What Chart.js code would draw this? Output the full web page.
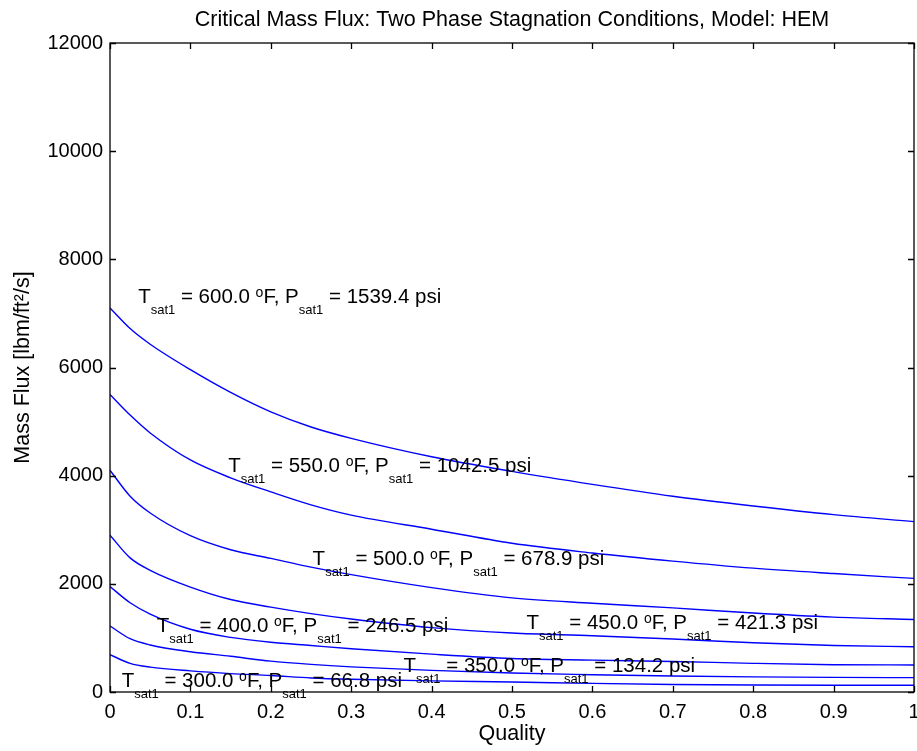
<!DOCTYPE html>
<html>
<head>
<meta charset="utf-8">
<script src="https://cdn.jsdelivr.net/npm/chart.js@4.4.0/dist/chart.umd.min.js"></script>
<style>
html, body { margin: 0; padding: 0; background: #fff; }
#box { width: 917px; height: 751px; }
</style>
</head>
<body>
<div id="box"><canvas id="myChart"></canvas></div>
<script>
// quality grid and critical mass flux per saturation temperature [lbm/ft2/s]
const quality = [0, 0.025, 0.05, 0.1, 0.15, 0.2, 0.25, 0.3, 0.4, 0.5, 0.6, 0.7, 0.8, 0.9, 1.0];
const g600 = [7100, 6720, 6430, 5960, 5540, 5180, 4900, 4690, 4350, 4080, 3840, 3620, 3440, 3280, 3150];
const g550 = [5500, 5120, 4790, 4290, 3960, 3700, 3460, 3270, 3010, 2750, 2570, 2420, 2290, 2190, 2100];
const g500 = [4100, 3620, 3310, 2890, 2630, 2470, 2310, 2170, 1930, 1740, 1640, 1555, 1460, 1385, 1340];
const g450 = [2900, 2480, 2250, 1940, 1710, 1570, 1450, 1350, 1190, 1090, 1040, 980, 910, 860, 838];
const g400 = [1950, 1650, 1440, 1160, 1010, 920, 860, 800, 700, 620, 590, 565, 530, 505, 500];
const g350 = [1220, 985, 870, 745, 660, 570, 510, 465, 400, 350, 320, 295, 280, 270, 265];
const g300 = [690, 530, 460, 390, 340, 305, 260, 235, 205, 185, 160, 140, 130, 125, 124];

// curve annotations: temperature, pressure, and where each text sits (quality, flux)
const tSat = ['600.0', '550.0', '500.0', '450.0', '400.0', '350.0', '300.0'];
const pSat = ['1539.4', '1042.5', '678.9', '421.3', '246.5', '134.2', '66.8'];
const labelQ = [0.035, 0.147, 0.252, 0.518, 0.058, 0.365, 0.0145];
const labelG = [7186, 4070, 2344, 1173, 1110, 370, 92];

const xTicks = [0, 0.1, 0.2, 0.3, 0.4, 0.5, 0.6, 0.7, 0.8, 0.9, 1];
const yTicks = [0, 2000, 4000, 6000, 8000, 10000, 12000];

const FONT = "'Liberation Sans', Arial, Helvetica, sans-serif";
const TITLE = 'Critical Mass Flux: Two Phase Stagnation Conditions, Model: HEM';

function pts(arr) {
  return quality.map((q, i) => ({x: q, y: arr[i]}));
}

const series = [g600, g550, g500, g450, g400, g350, g300];
const datasets = series.map(s => ({
  data: pts(s),
  borderColor: '#0000ff',
  borderWidth: 1.4,
  pointRadius: 0,
  fill: false,
  cubicInterpolationMode: 'monotone'
}));

// black box round the plot with inward tick marks on every side, title centred over the axes
const boxTicks = {
  id: 'boxTicks',
  afterDraw(chart) {
    const ctx = chart.ctx, a = chart.chartArea;
    const x = chart.scales.x, y = chart.scales.y;
    const len = 6;
    ctx.save();
    ctx.strokeStyle = '#000';
    ctx.lineWidth = 1.3;
    ctx.beginPath();
    xTicks.forEach(v => {
      const px = Math.round(x.getPixelForValue(v)) + 0.5;
      ctx.moveTo(px, a.bottom); ctx.lineTo(px, a.bottom - len);
      ctx.moveTo(px, a.top); ctx.lineTo(px, a.top + len);
    });
    yTicks.forEach(v => {
      const py = Math.round(y.getPixelForValue(v)) + 0.5;
      ctx.moveTo(a.left, py); ctx.lineTo(a.left + len, py);
      ctx.moveTo(a.right, py); ctx.lineTo(a.right - len, py);
    });
    ctx.stroke();
    ctx.strokeRect(a.left, a.top, a.right - a.left, a.bottom - a.top);

    ctx.fillStyle = '#000';
    ctx.font = '21.5px ' + FONT;
    ctx.textAlign = 'center';
    ctx.textBaseline = 'alphabetic';
    ctx.fillText(TITLE, (a.left + a.right) / 2, 26);
    ctx.restore();
  }
};

// "T_sat1 = ... oF, P_sat1 = ... psi" next to each curve
const curveLabels = {
  id: 'curveLabels',
  afterDatasetsDraw(chart) {
    const ctx = chart.ctx;
    const x = chart.scales.x, y = chart.scales.y;
    const big = '20.5px ' + FONT, small = '13px ' + FONT, sup = '14px ' + FONT;
    ctx.save();
    ctx.fillStyle = '#000';
    ctx.textBaseline = 'alphabetic';
    ctx.textAlign = 'left';
    tSat.forEach((t, i) => {
      const parts = [
        ['T', big, 0], ['sat1', small, 11], [' = ' + t + ' ', big, 0], ['o', sup, -6],
        ['F, P', big, 0], ['sat1', small, 11], [' = ' + pSat[i] + ' psi', big, 0]
      ];
      let px = x.getPixelForValue(labelQ[i]);
      const py = y.getPixelForValue(labelG[i]);
      parts.forEach(p => {
        ctx.font = p[1];
        ctx.fillText(p[0], px, py + p[2]);
        px += ctx.measureText(p[0]).width;
      });
    });
    ctx.restore();
  }
};

new Chart(document.getElementById('myChart'), {
  type: 'line',
  data: { datasets: datasets },
  options: {
    responsive: true,
    maintainAspectRatio: false,
    animation: false,
    devicePixelRatio: 1,
    layout: { padding: { top: 43, right: 3, left: 0, bottom: 0 } },
    plugins: {
      legend: { display: false },
      tooltip: { enabled: false },
      title: { display: false }
    },
    scales: {
      x: {
        type: 'linear', min: 0, max: 1,
        afterBuildTicks: s => { s.ticks = xTicks.map(v => ({value: v})); },
        afterFit: s => { s.height = 59; s.paddingLeft = 0; s.paddingRight = 0; },
        grid: { display: false, drawTicks: false },
        border: { display: false },
        ticks: {
          color: '#000', padding: 8, maxRotation: 0,
          font: { family: FONT, size: 20 },
          callback: v => String(Number(v.toFixed(1)))
        },
        title: {
          display: true, text: 'Quality', color: '#000',
          font: { family: FONT, size: 21.5 }, padding: { top: 0, bottom: 4 }
        }
      },
      y: {
        type: 'linear', min: 0, max: 12000,
        afterBuildTicks: s => { s.ticks = yTicks.map(v => ({value: v})); },
        afterFit: s => { s.width = 110; s.paddingTop = 0; s.paddingBottom = 0; },
        grid: { display: false, drawTicks: false },
        border: { display: false },
        ticks: {
          color: '#000', padding: 7,
          font: { family: FONT, size: 20 },
          callback: v => String(v)
        },
        title: {
          display: true, text: 'Mass Flux [lbm/ft²/s]', color: '#000',
          font: { family: FONT, size: 21.5 }, padding: { top: 10, bottom: 0 }
        }
      }
    }
  },
  plugins: [boxTicks, curveLabels]
});
</script>
</body>
</html>
